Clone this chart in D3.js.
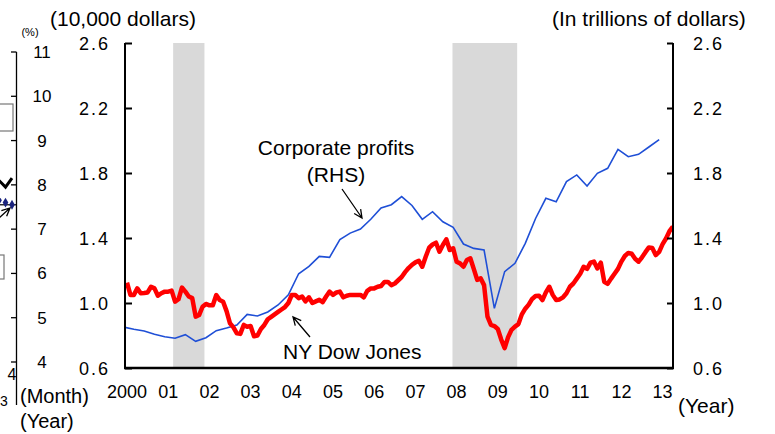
<!DOCTYPE html>
<html>
<head>
<meta charset="utf-8">
<script src="https://cdn.jsdelivr.net/npm/d3@7"></script>
<style>
  body { margin: 0; background: #fff; }
  svg text { font-family: "Liberation Sans", Arial, sans-serif; fill: #000; }
</style>
</head>
<body>
<svg id="chart" width="775" height="434"></svg>
<script>
// NY Dow Jones, monthly average from Jan 2000 (10,000 dollars)
const dowStart = 2000;
const dowValues = [
  1.125, 1.05, 1.05, 1.09, 1.06, 1.062, 1.065, 1.10, 1.09, 1.045, 1.06, 1.07,
  1.07, 1.076, 1.008, 1.023, 1.095, 1.07, 1.04, 1.03, 0.916, 0.926, 0.977, 0.994,
  0.986, 0.986, 1.049, 1.018, 1.008, 0.95, 0.875, 0.85, 0.813, 0.81, 0.865, 0.854,
  0.858, 0.795, 0.80, 0.84, 0.865, 0.90, 0.915, 0.93, 0.945, 0.96, 0.975, 1.00,
  1.05, 1.05, 1.03, 1.04, 1.01, 1.035, 1.00, 1.01, 1.02, 1.005, 1.04, 1.07,
  1.05, 1.065, 1.07, 1.035, 1.045, 1.05, 1.05, 1.05, 1.05, 1.035, 1.075, 1.09,
  1.09, 1.10, 1.105, 1.13, 1.13, 1.11, 1.12, 1.14, 1.16, 1.19, 1.215, 1.235,
  1.25, 1.26, 1.223, 1.285, 1.34, 1.36, 1.371, 1.316, 1.357, 1.392, 1.326, 1.337,
  1.254, 1.244, 1.223, 1.265, 1.275, 1.21, 1.142, 1.152, 1.11, 0.916, 0.865, 0.858,
  0.84, 0.775, 0.722, 0.79, 0.835, 0.855, 0.87, 0.93, 0.965, 0.99, 1.025, 1.043,
  1.045, 1.018, 1.065, 1.10, 1.05, 1.018, 1.022, 1.035, 1.06, 1.10, 1.12, 1.15,
  1.18, 1.223, 1.21, 1.248, 1.255, 1.213, 1.248, 1.131, 1.118, 1.15, 1.18, 1.21,
  1.255, 1.289, 1.308, 1.303, 1.272, 1.254, 1.281, 1.313, 1.342, 1.338, 1.295, 1.315,
  1.362, 1.397, 1.442, 1.47
];

// Corporate profits, quarterly from Q4 1999 (trillions of dollars, RHS)
const profitStart = 1999 + 11 / 12;
const profitValues = [
  0.852,
  0.838, 0.828, 0.808, 0.792,
  0.783, 0.805, 0.764, 0.786,
  0.83, 0.846, 0.865, 0.93,
  0.92, 0.945, 0.988, 1.05,
  1.18, 1.225, 1.287, 1.281,
  1.39, 1.43, 1.455, 1.515,
  1.585, 1.605, 1.655, 1.60,
  1.515, 1.562, 1.50, 1.466,
  1.363, 1.336, 1.326, 0.967,
  1.193, 1.244, 1.367, 1.52,
  1.644, 1.623, 1.747, 1.788,
  1.72, 1.798, 1.829, 1.945,
  1.90, 1.915, 1.96, 2.005
];

// recession periods (shaded)
const recessions = [[2001.12, 2001.88], [2007.9, 2009.47]];

const yearLabels = ["2000", "01", "02", "03", "04", "05", "06", "07", "08", "09", "10", "11", "12", "13"];
const yTicks = [0.6, 1.0, 1.4, 1.8, 2.2, 2.6];

// cropped neighbour chart on the left edge
const leftTicks = [4, 5, 6, 7, 8, 9, 10, 11];
const leftBlack = [8.1, 7.95, 8.15];
const leftBlue = [7.65, 7.6, 7.55];

const svg = d3.select("#chart");

const plot = { left: 125, right: 673, top: 43, bottom: 368 };

const x = d3.scaleLinear().domain([2000, 2013]).range([127, 662.6]);
const yL = d3.scaleLinear().domain([0.6, 2.6]).range([plot.bottom, plot.top]);
const yR = d3.scaleLinear().domain([0.6, 2.6]).range([plot.bottom, plot.top]);

const dow = dowValues.map((v, i) => ({ t: dowStart + i / 12, v: v }));
const profits = profitValues.map((v, i) => ({ t: profitStart + i / 4, v: v }));

svg.append("clipPath").attr("id", "plotClip")
  .append("rect")
  .attr("x", plot.left).attr("y", plot.top)
  .attr("width", plot.right - plot.left).attr("height", plot.bottom - plot.top);

// recession bands
svg.selectAll("rect.band")
  .data(recessions)
  .enter().append("rect")
  .attr("class", "band")
  .attr("x", d => x(d[0]))
  .attr("width", d => x(d[1]) - x(d[0]))
  .attr("y", plot.top)
  .attr("height", plot.bottom - plot.top)
  .attr("fill", "#d9d9d9");

const g = svg.append("g").attr("clip-path", "url(#plotClip)");

g.append("path")
  .datum(profits)
  .attr("fill", "none")
  .attr("stroke", "#1f4fd6")
  .attr("stroke-width", 1.6)
  .attr("d", d3.line().x(d => x(d.t)).y(d => yR(d.v)));

g.append("path")
  .datum(dow)
  .attr("fill", "none")
  .attr("stroke", "#ff0000")
  .attr("stroke-width", 4.5)
  .attr("stroke-linejoin", "round")
  .attr("d", d3.line().x(d => x(d.t)).y(d => yL(d.v)));

// axes frame
const leftAxis = d3.axisRight(yL).tickValues(yTicks).tickSize(7).tickFormat("");
svg.append("g").attr("transform", `translate(${plot.left},0)`).call(leftAxis)
  .call(a => a.selectAll("line,path").attr("stroke", "#000").attr("stroke-width", 2))
  .call(a => a.select(".domain").attr("d", `M0,${plot.top}V${plot.bottom}`));

const rightAxis = d3.axisLeft(yR).tickValues(yTicks).tickSize(6).tickFormat("");
svg.append("g").attr("transform", `translate(${plot.right},0)`).call(rightAxis)
  .call(a => a.selectAll("line,path").attr("stroke", "#000").attr("stroke-width", 2))
  .call(a => a.select(".domain").attr("d", `M0,${plot.top}V${plot.bottom}`));

svg.append("line")
  .attr("x1", plot.left - 1).attr("x2", plot.right + 1)
  .attr("y1", plot.bottom).attr("y2", plot.bottom)
  .attr("stroke", "#000").attr("stroke-width", 2.5);

// tick labels
const fmt = d3.format(".1f");
svg.selectAll("text.yl")
  .data(yTicks).enter().append("text")
  .attr("x", 110).attr("y", d => yL(d) + 7)
  .attr("text-anchor", "end")
  .attr("font-size", 18).attr("letter-spacing", 2)
  .text(fmt);

svg.selectAll("text.yr")
  .data(yTicks).enter().append("text")
  .attr("x", 693).attr("y", d => yR(d) + 7)
  .attr("font-size", 18).attr("letter-spacing", 2)
  .text(fmt);

svg.selectAll("text.xl")
  .data(yearLabels).enter().append("text")
  .attr("x", (d, i) => x(2000 + i))
  .attr("y", 398)
  .attr("text-anchor", "middle")
  .attr("font-size", 18)
  .text(d => d);

// titles and notes
svg.append("text").attr("x", 50).attr("y", 26).attr("font-size", 21).text("(10,000 dollars)");
svg.append("text").attr("x", 552).attr("y", 26).attr("font-size", 21).text("(In trillions of dollars)");
svg.append("text").attr("x", 678).attr("y", 413).attr("font-size", 21).text("(Year)");

svg.append("text").attr("x", 336).attr("y", 155).attr("text-anchor", "middle").attr("font-size", 21).text("Corporate profits");
svg.append("text").attr("x", 336).attr("y", 182).attr("text-anchor", "middle").attr("font-size", 21).text("(RHS)");
svg.append("text").attr("x", 283).attr("y", 359).attr("font-size", 21).text("NY Dow Jones");

function arrow(x1, y1, x2, y2) {
  const a = Math.atan2(y2 - y1, x2 - x1), L = 9, w = 0.45;
  const p = d3.path();
  p.moveTo(x1, y1); p.lineTo(x2, y2);
  p.moveTo(x2 - L * Math.cos(a - w), y2 - L * Math.sin(a - w));
  p.lineTo(x2, y2);
  p.lineTo(x2 - L * Math.cos(a + w), y2 - L * Math.sin(a + w));
  svg.append("path").attr("d", p.toString())
    .attr("fill", "none").attr("stroke", "#000").attr("stroke-width", 1.3);
}
arrow(342, 189, 362, 218);
arrow(310, 337, 293, 317);

// ---- left neighbour chart (cropped) ----
const yS = d3.scaleLinear().domain([4, 11]).range([362, 52]);
const xS = d3.scaleLinear().domain([0, 2]).range([0, 13]);

svg.append("line").attr("x1", 16.5).attr("x2", 16.5).attr("y1", yS(11)).attr("y2", 405)
  .attr("stroke", "#000").attr("stroke-width", 1.3);
svg.selectAll("line.ltick").data(leftTicks).enter().append("line")
  .attr("x1", 11).attr("x2", 16.5)
  .attr("y1", d => yS(d)).attr("y2", d => yS(d))
  .attr("stroke", "#000").attr("stroke-width", 1.3);
svg.selectAll("text.ll").data(leftTicks).enter().append("text")
  .attr("x", 42).attr("y", d => yS(d) + 6)
  .attr("text-anchor", "middle").attr("font-size", 17)
  .text(d => d);
svg.append("text").attr("x", 30).attr("y", 36).attr("text-anchor", "middle").attr("font-size", 11).text("(%)");

svg.append("rect").attr("x", -2).attr("y", 104).attr("width", 15).attr("height", 27)
  .attr("fill", "#fff").attr("stroke", "#777").attr("stroke-width", 1.2);
svg.append("rect").attr("x", -2).attr("y", 255).attr("width", 6).attr("height", 24)
  .attr("fill", "#fff").attr("stroke", "#777").attr("stroke-width", 1.2);

svg.append("path").datum(leftBlack)
  .attr("fill", "none").attr("stroke", "#000").attr("stroke-width", 3)
  .attr("d", d3.line().x((d, i) => xS(i) - 1).y(d => yS(d)));
svg.append("line").attr("x1", 0).attr("x2", 16).attr("y1", yS(7.55)).attr("y2", yS(7.55))
  .attr("stroke", "#000").attr("stroke-width", 1.2);
svg.selectAll("path.dia").data(leftBlue).enter().append("path")
  .attr("transform", (d, i) => `translate(${xS(i) - 1},${yS(d)})`)
  .attr("d", d3.symbol().type(d3.symbolDiamond).size(28))
  .attr("fill", "#1a237e");
arrow(-1, 218, 10, 208);

svg.append("text").attr("x", 12).attr("y", 380).attr("text-anchor", "middle").attr("font-size", 16).text("4");
svg.append("text").attr("x", 4).attr("y", 406).attr("text-anchor", "middle").attr("font-size", 14).text("3");
svg.append("text").attr("x", 20).attr("y", 403).attr("font-size", 20).text("(Month)");
svg.append("text").attr("x", 20).attr("y", 428).attr("font-size", 20).text("(Year)");
</script>
</body>
</html>
